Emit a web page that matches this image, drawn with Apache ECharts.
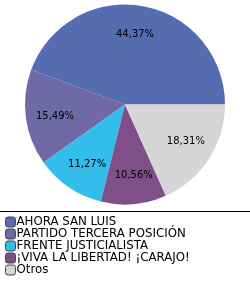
<!DOCTYPE html>
<html>
<head>
<meta charset="utf-8">
<script src="https://cdn.jsdelivr.net/npm/echarts@6/dist/echarts.min.js"></script>
<style>
html,body{margin:0;padding:0;background:#fff;}
#c{width:250px;height:285px;}
</style>
</head>
<body>
<div id="c"></div>
<script>
var categories = ["AHORA SAN LUIS", "PARTIDO TERCERA POSICIÓN", "FRENTE JUSTICIALISTA", "¡VIVA LA LIBERTAD! ¡CARAJO!", "Otros"];
var values = [44.37, 15.49, 11.27, 10.56, 18.31];
var colors = ["#556cb0", "#6f69a6", "#32bdeb", "#7e4f88", "#d6d6d6"];

var chart = echarts.init(document.getElementById('c'), null, {renderer: 'canvas'});
var data = categories.map(function (n, i) {
  return {name: n, value: values[i], itemStyle: {color: colors[i]}};
});
var labelData = categories.map(function (n, i) {
  return {name: n, value: values[i]};
});
function fmt(p) { return p.value.toFixed(2).replace('.', ',') + '%'; }

chart.setOption({
  animation: false,
  legend: {
    orient: 'vertical',
    left: 0,
    top: 211,
    itemWidth: 10,
    itemHeight: 10,
    itemGap: 0,
    icon: 'roundRect',
    data: categories.map(function (n, i) {
      return {name: n, itemStyle: {color: colors[i], borderColor: '#444', borderWidth: 1}};
    }),
    textStyle: {fontFamily: 'DejaVu Sans', fontSize: 11.8, color: '#000', padding: [0, 0, 0, -4], lineHeight: 11}
  },
  graphic: [{
    type: 'line',
    shape: {x1: 0, y1: 211.5, x2: 250, y2: 211.5},
    style: {stroke: '#000', lineWidth: 1}
  }],
  series: [{
    type: 'pie',
    center: [125, 104.5],
    radius: [0, 100],
    startAngle: 0,
    clockwise: false,
    label: {show: false},
    labelLine: {show: false},
    emphasis: {disabled: true},
    data: data
  }, {
    type: 'pie',
    center: [125, 104.5],
    radius: [36, 100],
    startAngle: 2,
    clockwise: false,
    silent: true,
    legendHoverLink: false,
    itemStyle: {color: 'rgba(0,0,0,0)'},
    label: {show: true, position: 'inside', formatter: fmt, fontFamily: 'DejaVu Sans', fontSize: 10, color: '#000'},
    labelLine: {show: false},
    emphasis: {disabled: true},
    data: labelData
  }]
});
</script>
</body>
</html>
